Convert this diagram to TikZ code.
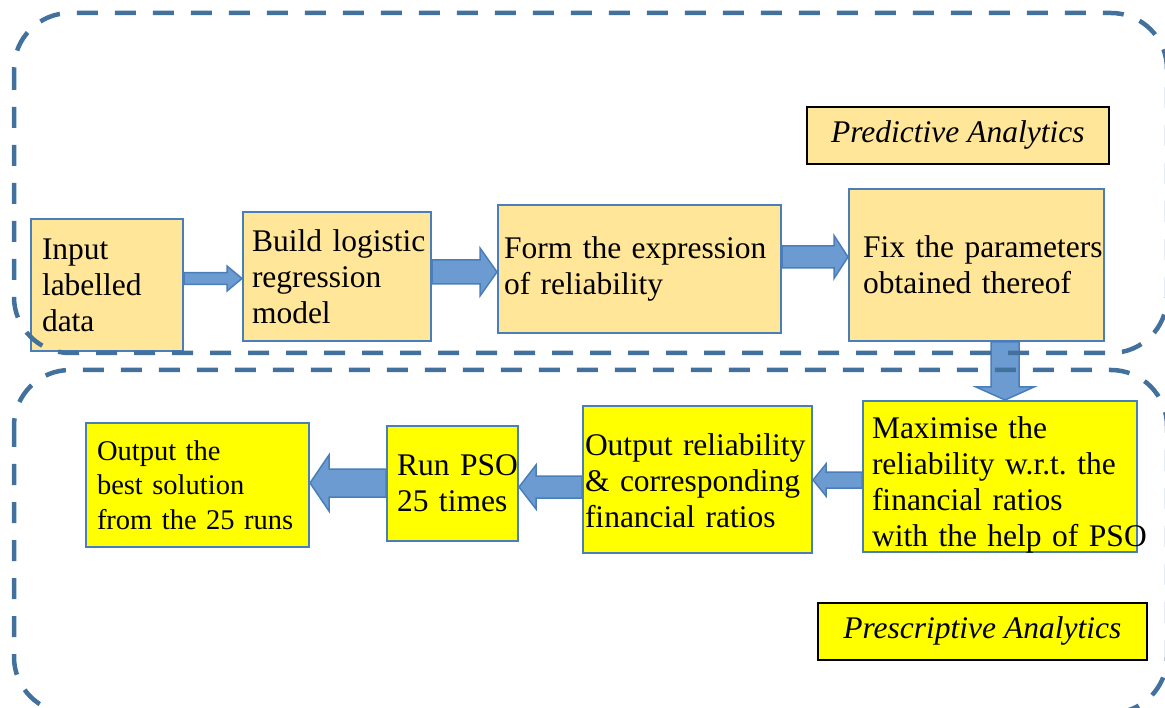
\documentclass[tikz,border=0pt]{standalone}
\usepackage{fontspec}
\setmainfont{Liberation Serif}
\usetikzlibrary{calc}

\definecolor{framecol}{RGB}{65,113,156}
\definecolor{edgecol}{RGB}{74,126,187}
\definecolor{arrowfill}{RGB}{108,155,209}
\definecolor{predfill}{RGB}{255,230,153}
\definecolor{prescfill}{RGB}{255,255,0}

% block arrow: tail, tip, half shaft, half head, head length
\newcommand{\blockarrow}[5]{%
  \coordinate (ahead) at ($(#2)!#5!(#1)$);
  \draw[flow] ($(#1)!#3!90:(#2)$) -- ($(ahead)!#3!90:(#2)$) -- ($(ahead)!#4!90:(#2)$) -- (#2)
    -- ($(ahead)!#4!-90:(#2)$) -- ($(ahead)!#3!-90:(#2)$) -- ($(#1)!#3!-90:(#2)$) -- cycle;
}

\begin{document}
\begin{tikzpicture}[x=1pt,y=-1pt,
  stage/.style={draw=edgecol,line width=2pt,anchor=north west,align=left,inner ysep=0pt,
    font=\fontsize{31.5}{36}\selectfont,execute at begin node={\hyphenpenalty=10000\exhyphenpenalty=10000}},
  tag/.style={draw=black,line width=1.6pt,anchor=north west,
    font=\fontsize{31.5}{36}\selectfont\itshape},
  flow/.style={draw=edgecol,fill=arrowfill,line width=1.5pt,line join=miter},
  frame/.style={draw=framecol,line width=4.5pt,dash pattern=on 21pt off 17pt,rounded corners=56pt}]
\useasboundingbox (0,0) rectangle (1165,708);

% predictive part
\node[tag,fill=predfill,minimum width=302pt,minimum height=57pt] (pred) at (806,106) {Predictive Analytics};

\node[stage,fill=predfill,minimum width=152pt,minimum height=132pt,text width=130pt,inner xsep=11pt] (input) at (30,218) {Input\\labelled\\data};
\node[stage,fill=predfill,minimum width=188pt,minimum height=129pt,text width=170pt,inner xsep=9pt] (build) at (242,211) {Build~logistic\\regression\\model};
\node[stage,fill=predfill,minimum width=283pt,minimum height=128pt,text width=271pt,inner xsep=6pt] (form) at (497,204) {Form~the~expression\\of~reliability};
\node[stage,fill=predfill,minimum width=255pt,minimum height=152pt,text width=227pt,inner xsep=14pt] (fix) at (848,188) {Fix~the~parameters\\obtained~thereof};

% prescriptive part
\node[stage,fill=prescfill,minimum width=274pt,minimum height=151pt,text width=256pt,inner xsep=9pt,text depth=97pt] (maxim) at (862,400) {Maximise~the\\reliability~w.r.t.~the\\financial~ratios\\with~the~help~of~PSO};
\node[stage,fill=prescfill,minimum width=229pt,minimum height=147pt,text width=225pt,inner xsep=2pt,text depth=70pt] (result) at (582,405) {Output~reliability\\\&~corresponding\\financial~ratios};
\node[stage,fill=prescfill,minimum width=131pt,minimum height=115pt,text width=111pt,inner xsep=10pt] (runpso) at (386,425) {Run~PSO\\25~times};
\node[stage,fill=prescfill,minimum width=223pt,minimum height=124pt,text width=201pt,inner xsep=11pt,
  font=\fontsize{28.5}{34.5}\selectfont] (best) at (85,422) {Output~the\\best~solution\\from~the~25~runs};

\node[tag,fill=prescfill,minimum width=329pt,minimum height=57pt] (presc) at (817,602) {Prescriptive Analytics};

% arrows
\coordinate (y1) at (0,278.5);
\coordinate (y2) at (0,272);
\coordinate (y3) at (0,257);
\coordinate (x4) at (1005,0);
\coordinate (y5) at (0,480);
\coordinate (y6) at (0,487);
\coordinate (y7) at (0,483);
\coordinate (a1t) at (input.east |- y1);
\coordinate (a1h) at (build.west |- y1);
\coordinate (a2t) at (build.east |- y2);
\coordinate (a2h) at (form.west |- y2);
\coordinate (a3t) at (form.east |- y3);
\coordinate (a3h) at (fix.west |- y3);
\coordinate (a4t) at (fix.south -| x4);
\coordinate (a4h) at (maxim.north -| x4);
\coordinate (a5t) at (maxim.west |- y5);
\coordinate (a5h) at (result.east |- y5);
\coordinate (a6t) at (result.west |- y6);
\coordinate (a6h) at (runpso.east |- y6);
\coordinate (a7t) at (runpso.west |- y7);
\coordinate (a7h) at (best.east |- y7);

\blockarrow{a1t}{a1h}{5.8pt}{12.5pt}{15pt}
\blockarrow{a2t}{a2h}{12pt}{24pt}{17pt}
\blockarrow{a3t}{a3h}{11pt}{21.5pt}{14pt}
\blockarrow{a4t}{a4h}{14pt}{29pt}{13pt}
\blockarrow{a5t}{a5h}{8pt}{16pt}{13pt}
\blockarrow{a6t}{a6h}{11pt}{22pt}{17pt}
\blockarrow{a7t}{a7h}{14pt}{28pt}{19pt}

% dashed frames
\draw[frame] (14,13) rectangle (1167,353);
\draw[frame] (14,370) rectangle (1167,713);
\end{tikzpicture}
\end{document}
